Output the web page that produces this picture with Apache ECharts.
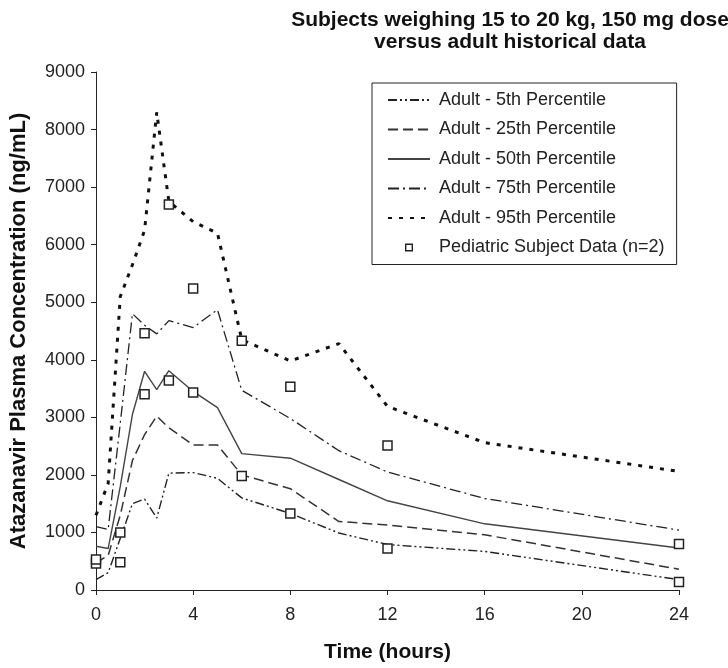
<!DOCTYPE html>
<html>
<head>
<meta charset="utf-8">
<script src="https://cdn.jsdelivr.net/npm/echarts@6/dist/echarts.min.js"></script>
<style>
  html, body { margin: 0; padding: 0; background: #fff; }
  #chart { width: 728px; height: 668px; }
</style>
</head>
<body>
<div id="chart"></div>
<script>
// Sampling times (hours) for the adult percentile curves
var times = [0, 0.5, 1, 1.5, 2, 2.5, 3, 4, 5, 6, 8, 10, 12, 16, 24];

// Adult historical percentiles (ng/mL)
var p5  = [180, 300, 900, 1500, 1580, 1250, 2030, 2040, 1940, 1600, 1330, 990, 790, 670, 180];
var p25 = [470, 600, 1300, 2250, 2700, 3020, 2820, 2520, 2520, 2000, 1760, 1190, 1130, 960, 360];
var p50 = [760, 720, 1800, 3050, 3800, 3480, 3810, 3450, 3170, 2370, 2290, 1920, 1550, 1150, 730];
var p75 = [1100, 1050, 2900, 4800, 4600, 4450, 4680, 4560, 4870, 3470, 2980, 2420, 2050, 1590, 1040];
var p95 = [1300, 1850, 5100, 5650, 6250, 8300, 6750, 6400, 6200, 4350, 3980, 4280, 3190, 2560, 2060];

// Pediatric subjects (n=2)
var pedTime = [0, 0, 1, 1, 2, 2, 3, 3, 4, 4, 6, 6, 8, 8, 12, 12, 24, 24];
var pedConc = [460, 530, 1000, 480, 3400, 4460, 3640, 6700, 3430, 5240, 1980, 4330, 1330, 3530, 720, 2510, 800, 140];

var xTicks = [0, 4, 8, 12, 16, 20, 24];
var yTicks = [0, 1000, 2000, 3000, 4000, 5000, 6000, 7000, 8000, 9000];

var FONT = 'Liberation Sans, Arial, sans-serif';

function pairs(xs, ys) {
  return xs.map(function (x, i) { return [x, ys[i]]; });
}

function lineSeries(name, values, style) {
  return {
    name: name,
    type: 'line',
    data: pairs(times, values),
    symbol: 'none',
    showSymbol: false,
    silent: true,
    animation: false,
    itemStyle: { color: style.color },
    lineStyle: style,
    z: 2
  };
}

var chart = echarts.init(document.getElementById('chart'), null, { renderer: 'canvas' });

chart.setOption({
  backgroundColor: '#ffffff',
  animation: false,
  title: {
    text: 'Subjects weighing 15 to 20 kg, 150 mg dose\nversus adult historical data',
    left: 505,
    top: 4,
    textAlign: 'center',
    textStyle: {
      fontFamily: FONT,
      fontWeight: 'bold',
      fontSize: 21,
      lineHeight: 22,
      color: '#111'
    }
  },
  legend: {
    orient: 'vertical',
    left: 372,
    top: 83,
    padding: [8, 12, 8, 15],
    itemGap: 11.5,
    itemWidth: 42,
    itemHeight: 8,
    backgroundColor: '#fff',
    borderColor: '#222',
    borderWidth: 1,
    borderRadius: 0,
    selectedMode: false,
    // line entries show only the dash pattern, no marker
    itemStyle: { opacity: 0 },
    textStyle: { fontFamily: FONT, fontSize: 18, color: '#222', padding: [0, 0, 0, 4] },
    data: [
      { name: 'Adult - 5th Percentile' },
      { name: 'Adult - 25th Percentile' },
      { name: 'Adult - 50th Percentile' },
      { name: 'Adult - 75th Percentile' },
      { name: 'Adult - 95th Percentile' },
      {
        name: 'Pediatric Subject Data (n=2)',
        icon: 'path://M0,0h8v8h-8z M1.4,1.4v5.2h5.2v-5.2z',
        itemStyle: { color: '#222', borderWidth: 0, opacity: 1 }
      }
    ]
  },
  grid: {
    left: 95,
    right: 49,
    top: 72,
    bottom: 74,
    containLabel: false
  },
  xAxis: {
    type: 'value',
    min: xTicks[0],
    max: xTicks[xTicks.length - 1],
    interval: 4,
    name: 'Time (hours)',
    nameLocation: 'middle',
    nameGap: 52,
    nameTextStyle: { fontFamily: FONT, fontWeight: 'bold', fontSize: 21, color: '#111' },
    axisLine: { show: true, onZero: false, lineStyle: { color: '#222', width: 1 } },
    axisTick: { show: true, inside: false, length: 5, lineStyle: { color: '#222' } },
    axisLabel: { fontFamily: FONT, fontSize: 18, color: '#222', margin: 16 },
    splitLine: { show: false }
  },
  yAxis: {
    type: 'value',
    min: yTicks[0],
    max: yTicks[yTicks.length - 1],
    interval: 1000,
    name: 'Atazanavir Plasma Concentration (ng/mL)',
    nameLocation: 'middle',
    nameGap: 66,
    nameTextStyle: { fontFamily: FONT, fontWeight: 'bold', fontSize: 22, color: '#111' },
    axisLine: { show: true, lineStyle: { color: '#222', width: 1 } },
    axisTick: { show: true, inside: false, length: 5, lineStyle: { color: '#222' } },
    axisLabel: {
      fontFamily: FONT, fontSize: 18, color: '#222', margin: 11,
      formatter: function (v) { return String(v); }
    },
    splitLine: { show: false }
  },
  series: [
    lineSeries('Adult - 5th Percentile', p5, { color: '#222', width: 1.4, type: [9, 3, 2, 3, 2, 3] }),
    lineSeries('Adult - 25th Percentile', p25, { color: '#333', width: 1.5, type: [10, 5] }),
    lineSeries('Adult - 50th Percentile', p50, { color: '#444', width: 1.4, type: 'solid' }),
    lineSeries('Adult - 75th Percentile', p75, { color: '#222', width: 1.3, type: [11, 4, 2, 4] }),
    lineSeries('Adult - 95th Percentile', p95, { color: '#111', width: 3, type: [4, 7] }),
    {
      name: 'Pediatric Subject Data (n=2)',
      type: 'scatter',
      data: pairs(pedTime, pedConc),
      symbol: 'rect',
      symbolSize: 9,
      silent: true,
      animation: false,
      itemStyle: { color: '#fff', borderColor: '#222', borderWidth: 1.5, opacity: 1 },
      z: 5
    }
  ]
});
</script>
</body>
</html>
